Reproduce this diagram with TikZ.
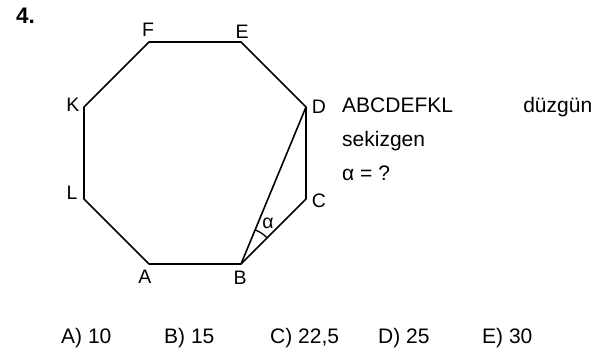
\documentclass[tikz,border=0pt]{standalone}
\usepackage{fontspec}
\setmainfont{Liberation Sans}
\usetikzlibrary{calc}

\begin{document}
\begin{tikzpicture}[
  x=1pt,y=-1pt,
  side/.style={line width=1.6pt,line join=round},
  vlabel/.style={inner sep=0pt,font=\fontsize{19.5}{22}\selectfont},
  txt/.style={inner sep=0pt,anchor=base west,font=\fontsize{21}{25}\selectfont},
]
\useasboundingbox (0,0) rectangle (607,356);

% regular octagon ABCDEFKL
\coordinate (A) at (149,264);
\coordinate (B) at (241,264);
\coordinate (C) at (306,199);
\coordinate (D) at (306,107);
\coordinate (E) at (241,42);
\coordinate (F) at (149,42);
\coordinate (K) at (84,107);
\coordinate (L) at (84,199);

\draw[side] (A) -- (B) -- (C) -- (D) -- (E) -- (F) -- (K) -- (L) -- cycle;
\draw[side] (B) -- (D);

% angle alpha at B
\begin{scope}[y=1pt]
  \draw[line width=1.3pt] ($(B)!37pt!(C)$) arc[start angle=45,end angle=67.5,radius=37pt];
\end{scope}
\node[vlabel] (alpha) at (268,223) {α};

% vertex labels
\node[vlabel] (lA) at (145,277) {A};
\node[vlabel] (lB) at (240,278) {B};
\node[vlabel] (lC) at (319,201) {C};
\node[vlabel] (lD) at (319,107) {D};
\node[vlabel] (lE) at (242,32) {E};
\node[vlabel] (lF) at (148,30) {F};
\node[vlabel] (lK) at (73,105) {K};
\node[vlabel] (lL) at (72,193) {L};

% question
\node[txt,font=\fontsize{22.5}{26}\selectfont\bfseries] (num) at (16,23) {4.};
\node[txt] (given) at (342,112) {\makebox[250pt][l]{ABCDEFKL\hfill düzgün}};
\node[txt] (shape) at (342,146) {sekizgen};
\node[txt] (ask) at (342,180) {α = ?};

% choices
\node[txt] (chA) at (61,343) {A) 10};
\node[txt] (chB) at (164,343) {B) 15};
\node[txt] (chC) at (270,343) {C) 22,5};
\node[txt] (chD) at (378,343) {D) 25};
\node[txt] (chE) at (482,343) {E) 30};
\end{tikzpicture}
\end{document}
